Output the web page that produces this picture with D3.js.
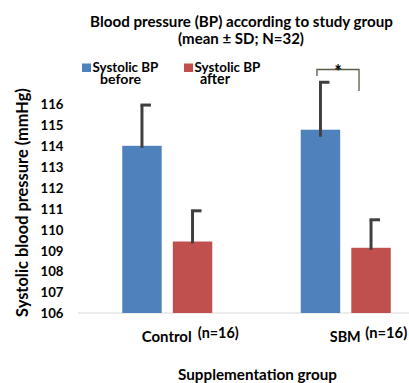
<html>
<head>
  <script src="https://d3js.org/d3.v7.min.js"></script>
  <style>
  body{ margin:0; background:#fff; }
  svg{ display:block; font-family: Lato, "Open Sans", sans-serif; font-weight:bold; }
  </style>
</head>
<body>
  <svg id="chart"></svg>
  <script type="text/javascript">
    var groups = ["Control", "SBM"];
    var groupNotes = ["(n=16)", "(n=16)"];
    var series = ["before", "after"];
    var seriesLabels = [["Systolic BP", "before"], ["Systolic BP", "after"]];
    var before = [114.0, 114.77];
    var after = [109.42, 109.12];
    var beforeSD = [1.95, 2.27];
    var afterSD = [1.47, 1.34];
    var yTicks = [106, 107, 108, 109, 110, 111, 112, 113, 114, 115, 116];

    var color = ["#4f81bd", "#c0504d"];
    var width = 409, height = 383;

    var svg = d3.select("#chart").attr("width", width).attr("height", height);

    // scale a text's font so it takes the given width
    function fit(sel, w){
      var l = sel.node().getComputedTextLength();
      sel.attr("font-size", +sel.attr("font-size") * w / l);
      return sel;
    }

    var yScale = d3.scaleLinear().domain([106, 116]).range([313, 104]);
    var x0 = d3.scaleBand().domain(groups).range([78, 435]);
    var x1 = d3.scaleBand().domain(series).range([-45, 45]).paddingInner(0.22);

    // baseline
    svg.append("line")
       .attr("x1", 78).attr("x2", width)
       .attr("y1", yScale(106)).attr("y2", yScale(106))
       .attr("stroke", "#d9d9d9").attr("stroke-width", 1);

    // y axis (labels only)
    var yAxis = d3.axisLeft(yScale).tickValues(yTicks).tickSize(0).tickPadding(0);
    var ya = svg.append("g").attr("transform", "translate(63.5,0)").call(yAxis);
    ya.select(".domain").remove();
    ya.selectAll("text").attr("font-size", 13.2).attr("font-family", "Lato")
      .attr("font-weight", "bold").attr("fill", "#000").attr("dy", "0.36em");

    var rows = groups.map(function(g, i){
      return [
        {g: g, s: "before", v: before[i], sd: beforeSD[i], c: color[0]},
        {g: g, s: "after", v: after[i], sd: afterSD[i], c: color[1]}
      ];
    });
    var flat = rows[0].concat(rows[1]);

    // bars
    svg.selectAll("rect.bar")
       .data(flat).enter().append("rect")
       .attr("class", "bar")
       .attr("x", function(d){ return x0(d.g) + x0.bandwidth()/2 + x1(d.s); })
       .attr("width", x1.bandwidth())
       .attr("y", function(d){ return yScale(d.v); })
       .attr("height", function(d){ return yScale(106) - yScale(d.v); })
       .attr("fill", function(d){ return d.c; });

    // error bars (upper only)
    var cx = function(d){ return x0(d.g) + x0.bandwidth()/2 + x1(d.s) + x1.bandwidth()/2; };
    svg.selectAll("line.err")
       .data(flat).enter().append("line")
       .attr("x1", cx).attr("x2", cx)
       .attr("y1", function(d){ return yScale(d.v) + (d.g == "SBM" && d.s == "before" ? 7 : 2); })
       .attr("y2", function(d){ return yScale(d.v + d.sd); })
       .attr("stroke", "#404040").attr("stroke-width", 3);
    svg.selectAll("line.cap")
       .data(flat).enter().append("line")
       .attr("x1", function(d){ return cx(d) - 1.5; })
       .attr("x2", function(d){ return cx(d) + 9; })
       .attr("y1", function(d){ return yScale(d.v + d.sd); })
       .attr("y2", function(d){ return yScale(d.v + d.sd); })
       .attr("stroke", "#404040").attr("stroke-width", 3);

    // significance bracket
    var bl = cx(rows[1][0]) - 3.5, br = cx(rows[1][1]) - 12;
    svg.append("path")
       .attr("d", "M" + bl + ",76 V69.5 H" + br + " V91")
       .attr("fill", "none").attr("stroke", "#5a5a48").attr("stroke-width", 1.3);
    svg.append("text").attr("x", (bl + br)/2).attr("y", 78)
       .attr("text-anchor", "middle").attr("font-size", 18).text("*");

    // x labels
    var catOff = [-25.5, -16], noteOff = [30.5, 19.5];
    var catW = [50, 31], noteW = [41, 42];
    groups.forEach(function(g, i){
      var c = x0(g) + x0.bandwidth()/2;
      fit(svg.append("text").attr("x", c + catOff[i]).attr("y", 342)
        .attr("font-size", 13).text(g), catW[i]);
      fit(svg.append("text").attr("x", c + noteOff[i]).attr("y", 338)
        .attr("font-size", 13).text(groupNotes[i]), noteW[i]);
    });

    // axis titles
    fit(svg.append("text").attr("x", 257.5).attr("y", 379.5).attr("text-anchor", "middle")
       .attr("font-size", 15).text("Supplementation group"), 159);
    fit(svg.append("text").attr("transform", "translate(28,202.5) rotate(-90)")
       .attr("text-anchor", "middle").attr("font-size", 13).text("Systolic blood pressure (mmHg)"), 229);

    // title
    fit(svg.append("text").attr("x", 241.5).attr("y", 27).attr("text-anchor", "middle")
       .attr("font-size", 14).text("Blood pressure (BP) according to study group"), 303);
    fit(svg.append("text").attr("x", 241).attr("y", 44).attr("text-anchor", "middle")
       .attr("font-size", 14).text("(mean \u00b1 SD; N=32)"), 126);

    // legend
    var lg = svg.append("g");
    var lx = [82, 184];
    var subX = [100, 200], subW = [41, 30];
    series.forEach(function(s, i){
      lg.append("rect").attr("x", lx[i]).attr("y", 63.5).attr("width", 9).attr("height", 8.5)
        .attr("fill", color[i]);
      fit(lg.append("text").attr("x", lx[i] + 10.5).attr("y", 71.5).attr("font-size", 13)
        .text(seriesLabels[i][0]), 66);
      fit(lg.append("text").attr("x", subX[i]).attr("y", 83.5).attr("font-size", 13)
        .text(seriesLabels[i][1]), subW[i]);
    });
  </script>
</body>
</html>
